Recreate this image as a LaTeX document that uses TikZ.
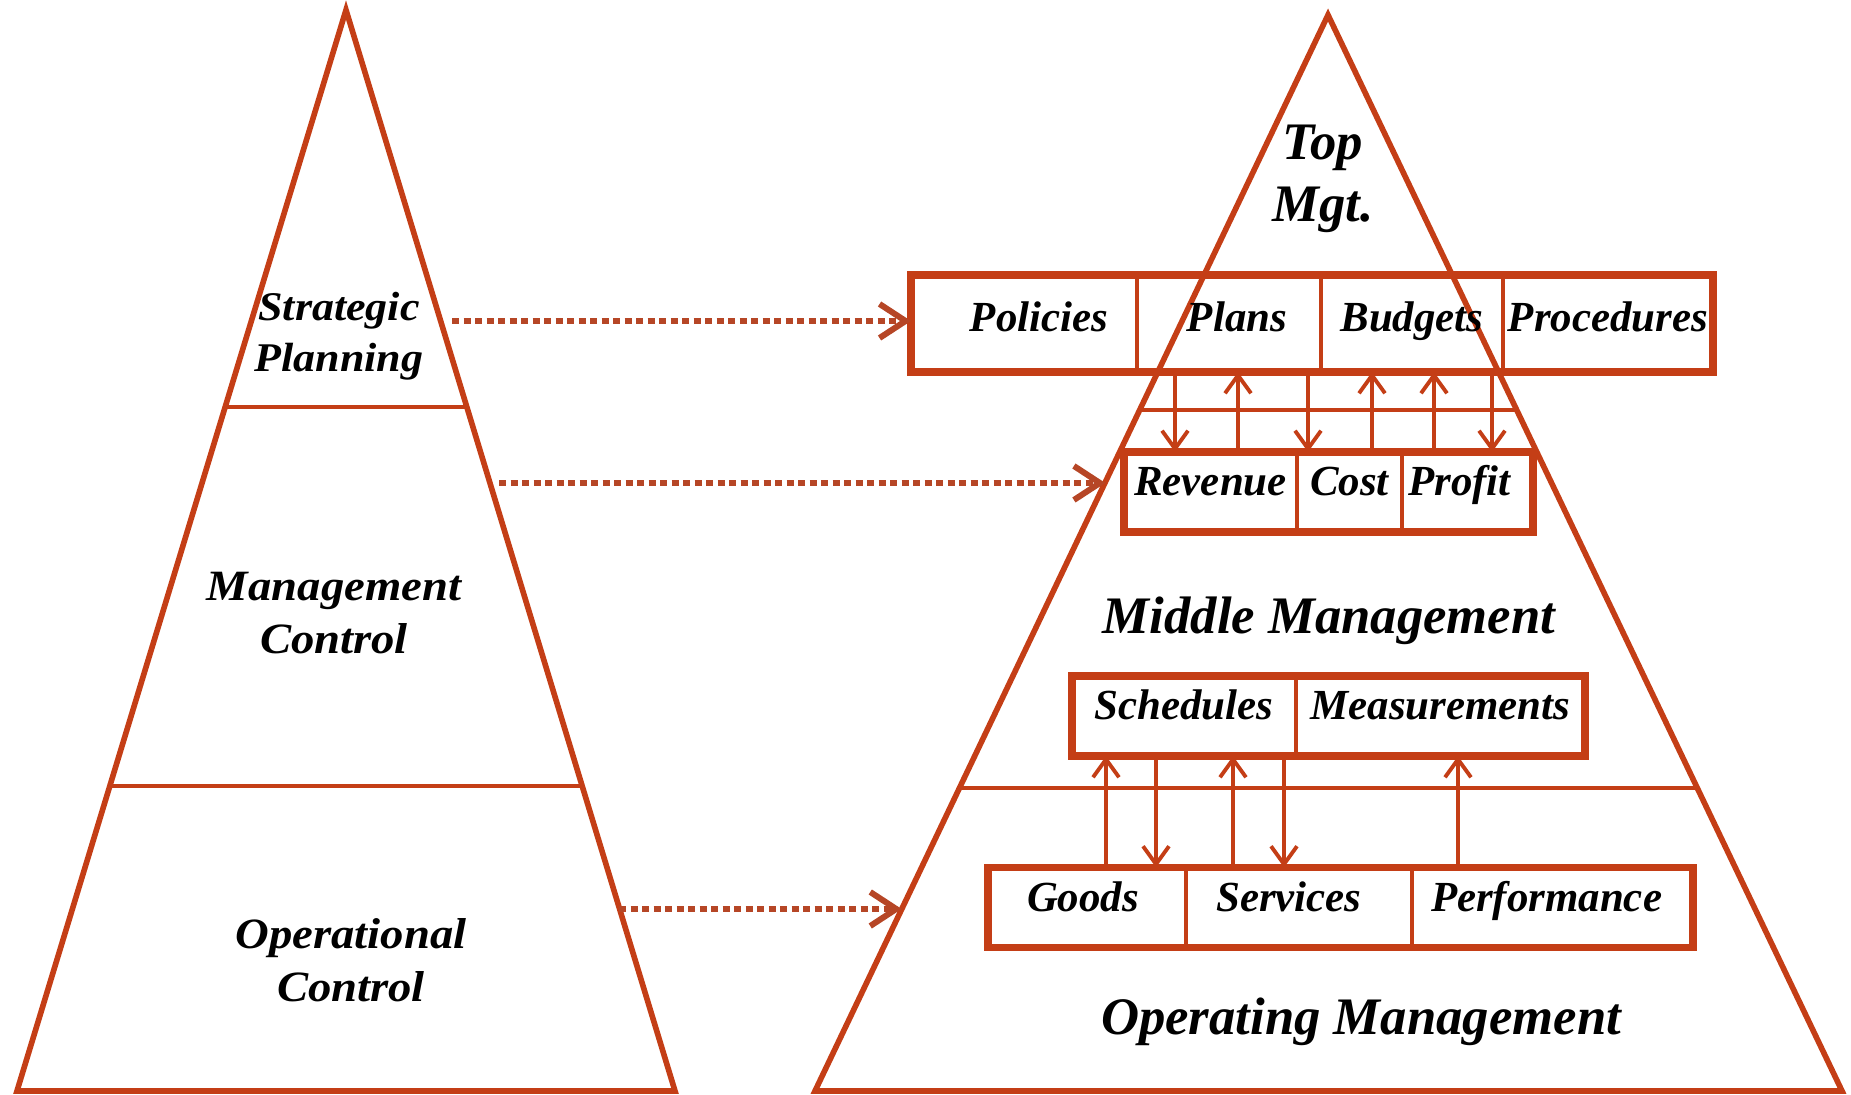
\documentclass[tikz,border=0pt]{standalone}
\usepackage{fontspec}
\setmainfont{Liberation Serif}
\newfontfamily\widefont[FakeStretch=1.08]{Liberation Serif}
\usetikzlibrary{arrows.meta,positioning,calc}
\definecolor{Rust}{RGB}{196,62,22}
\definecolor{DotRust}{RGB}{182,70,38}

\begin{document}
\begin{tikzpicture}[
  font=\bfseries\itshape,
  >={Straight Barb[length=1.8mm,width=2.6mm]},
  pyramid/.style={draw=Rust, line width=1.6pt, line join=miter},
  tier/.style={draw=Rust, line width=1.1pt},
  cell/.style={draw=Rust, line width=1.1pt, inner sep=0pt, outer sep=0pt,
    minimum height=8mm, text height=3.2mm, text depth=2.4mm,
    font=\fontsize{12.2}{14}\selectfont\bfseries\itshape},
  tall/.style={minimum height=9.7mm, text height=3.5mm, text depth=1.8mm},
  row/.style={draw=Rust, line width=2.2pt},
  flow/.style={->, draw=Rust, line width=1.1pt},
  level/.style={align=center, font=\widefont\fontsize{12.3}{15}\selectfont\bfseries\itshape},
  rank/.style={align=center, font=\fontsize{15}{17.5}\selectfont\bfseries\itshape},
  feed/.style={draw=DotRust, line width=1.7pt, dash pattern=on 0.7mm off 0.45mm,
    -{Straight Barb[length=2.6mm,width=3.4mm]}}
]
  \useasboundingbox (0,0) rectangle (18.51,10.94);

  % the two pyramids
  \coordinate (ltop) at (3.46,10.84);
  \coordinate (lleft) at (0.17,0.03);
  \coordinate (lright) at (6.75,0.03);
  \coordinate (rtop) at (13.28,10.79);
  \coordinate (rleft) at (8.15,0.03);
  \coordinate (rright) at (18.42,0.03);
  \draw[pyramid] (ltop) -- (lleft) -- (lright) -- cycle;
  \draw[pyramid] (rtop) -- (rleft) -- (rright) -- cycle;
  \foreach \t in {0.367,0.718} {
    \draw[tier] ($(ltop)!\t!(lleft)$) -- ($(ltop)!\t!(lright)$);
    \draw[tier] ($(rtop)!\t!(rleft)$) -- ($(rtop)!\t!(rright)$);
  }

  \node[level, font=\widefont\fontsize{11.6}{14.5}\selectfont\bfseries\itshape]
    (strategic) at (3.39,7.58) {Strategic\\Planning};
  \node[level] (mgmtctl) at (3.34,4.81) {Management\\Control};
  \node[level] (opctl) at (3.51,1.34) {Operational\\Control};

  \node[rank] (topmgt) at (13.23,9.15) {Top\\Mgt.};
  \node[rank, anchor=base] (middle) at (13.29,4.60) {Middle Management};
  \node[rank, anchor=base] (operating) at (13.61,0.60) {Operating Management};

  % top management tools
  \node[cell, tall, minimum width=22.6mm] (policies) at (10.24,7.705) {\hspace*{3mm}Policies};
  \node[cell, tall, minimum width=18.4mm, right=0pt of policies] (plans) {\hspace*{1.6mm}Plans};
  \node[cell, tall, minimum width=18.2mm, right=0pt of plans] (budgets) {Budgets};
  \node[cell, tall, minimum width=21mm, right=0pt of budgets] (procedures) {Procedures};
  \draw[row] (policies.north west) rectangle (procedures.south east);

  % middle management measures
  \node[cell, minimum width=17.3mm] (revenue) at (12.105,6.02) {Revenue};
  \node[cell, minimum width=10.5mm, right=0pt of revenue] (cost) {Cost};
  \node[cell, minimum width=13.1mm, right=0pt of cost] (profit) {Profit\hspace*{1.6mm}};
  \draw[row] (revenue.north west) rectangle (profit.south east);

  \node[cell, minimum width=22.4mm] (schedules) at (11.84,3.78) {Schedules};
  \node[cell, minimum width=28.9mm, right=0pt of schedules] (measurements) {Measurements};
  \draw[row] (schedules.north west) rectangle (measurements.south east);

  % operating level
  \node[cell, minimum width=19.8mm] (goods) at (10.87,1.865) {Goods\hspace*{0.8mm}};
  \node[cell, minimum width=22.6mm, right=0pt of goods] (services) {Services\hspace*{2mm}};
  \node[cell, minimum width=28.1mm, right=0pt of services] (performance) {Performance\hspace*{1.2mm}};
  \draw[row] (goods.north west) rectangle (performance.south east);

  \foreach \x in {11.75,13.08,14.92}
    \draw[flow] (policies.south -| \x,0) -- (revenue.north -| \x,0);
  \foreach \x in {12.38,13.72,14.34}
    \draw[flow] (revenue.north -| \x,0) -- (policies.south -| \x,0);
  \foreach \x in {11.56,12.84}
    \draw[flow] (schedules.south -| \x,0) -- (goods.north -| \x,0);
  \foreach \x in {11.06,12.33,14.58}
    \draw[flow] (goods.north -| \x,0) -- (schedules.south -| \x,0);

  % links between the two pyramids
  \coordinate (sp) at (4.52,7.73);
  \coordinate (mc) at (4.99,6.11);
  \coordinate (oc) at (6.19,1.85);
  \coordinate (mcend) at ($(rtop)!0.434!(rleft)$);
  \coordinate (ocend) at ($(rtop)!0.831!(rleft)$);
  \draw[feed] (sp) -- (sp -| policies.west);
  \draw[feed] (mc) -- (mc -| mcend);
  \draw[feed] (oc) -- (oc -| ocend);
\end{tikzpicture}
\end{document}
